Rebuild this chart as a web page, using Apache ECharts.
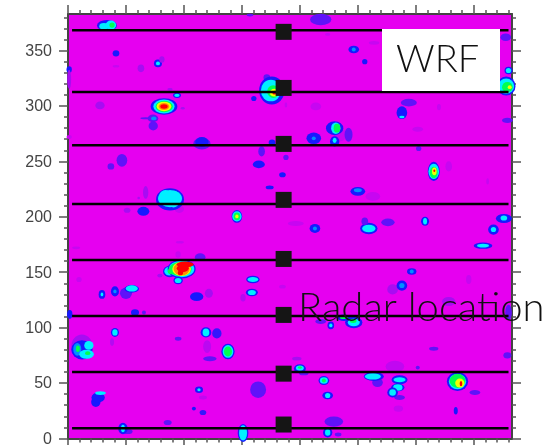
<!DOCTYPE html>
<html>
<head>
<meta charset="utf-8">
<style>
    html, body { margin: 0; padding: 0; background: #fff; }
    #main { width: 556px; height: 445px; }
    #main canvas { filter: blur(0.6px); }
</style>
<script src="https://cdn.jsdelivr.net/npm/echarts@6/dist/echarts.min.js"></script>
</head>
<body>
<div id="main"></div>
<script>
    var axisMax = 383;
    var tickValues = [0, 50, 100, 150, 200, 250, 300, 350];

    // scan lines and the radar positions on them
    var scanLineY = [368.3, 312.7, 264.6, 211.6, 161, 110.5, 60, 9.2];
    var scanLineX = [3.5, 380];
    var radarX = 186;
    var radarY = [366.9, 316.3, 265.8, 215.3, 162, 111.5, 58.5, 12.6];

    // echo contours: x, y, level, width, height (axis units)
    var upperEchoes = [
        [33.6,372.7,2,15,8.5],[31,372,4,7,5],[37,373,4,8,7],[38,373,5,4,4],
        [41.4,347.5,2,5,5],[77.6,338.4,2,6,6],[77.6,338.4,4,3,3],[81,342,1,4,5],
        [62.9,334,1,5,6],[41.4,335.8,0.5,5,2],[1,333,2,4,5],[1,324,1,3,15],
        [171.5,325.8,1.5,5,5],[175.8,314,2,19,22],[175,314,4,15,17],[177,313,5,9,10],
        [178,312,6,7,6],[178,312,8,3,3],[160.3,306.8,2,4,4],
        [82.8,299.6,2,20,13],[82.8,299.6,4,16,11],[83,299.6,5,13,9],[82.8,299.6,6,11,7.5],
        [82.8,299.6,7,8,5.5],[82.8,299.6,8,5.5,3.5],[94,309.6,2,6,4],[94,309.6,4,4,2.5],
        [88,315,1,4,2],[99,298,1,3,2],[27.6,300.5,1,7,6],[73.3,288.8,1.5,8,6],[74,288.8,3,4,3],
        [67,289,1.5,8,1.5],[73.5,282,1.5,7,7],[1,272,0.5,4,3],[115.5,266,1.5,13,9],[115.5,267.5,2,10,8],
        [176,267,2,5,5],[167,259,1.5,5,8],[164.6,247.3,2,9,6],[46.5,251,1.5,8,10],[37,245.5,1.5,5,5],
        [61,217,1,2,2],[67,222,1,4,10],[51,206,1,5,4],[65,205,2,9,7],
        [96,207,0.5,7,6],[88,215.7,2,21,17.5],[88,216.5,4,18,13.5],[84,219,4,9,9],[91,219,4,9,8],[91,213,4,8,8],
        [145.7,200.4,2,8,10],[145.7,200.4,4,7,8],[145.7,200.4,5,5,6],[145.7,200.4,6,2.5,3],
        [174,226.5,2,6,3],[157,382,1.5,5,2],
        [218,378,1.5,16,9],[224,364.6,0.5,4,2],[246.5,351,2,8,6],[246.5,351,3,3,3],[256,340,2,4,4],
        [264,357,0.5,8,3],[377.6,362,1.5,8,6],[380,332,2,6,6],[380,332,4,4,4],
        [378,318,2,14,15],[378,318,4,12,12],[379,317,5,8,8],[381,317,6,3,3],
        [213.8,299.6,0.5,8,6],[188,301,0.5,2,4],[294,303,1.5,12,6],[288,294,2,8,10],[288,290,4,4,2],
        [320,299,0.5,3,5],[379,287,1.5,8,4],[235,274,0.5,9,10],[230,280,2,13,11],[231,280,4,7,9],[232,280,5,5,7],
        [212,270.8,2,11,9],[212,270.8,3,3,3],[230,268,2,7,8],[230,269,4,3,4],[242,274,1.5,6,11],
        [302.5,261.7,1.5,4,4],[301.7,279,0.5,8,4],
        [315.5,241,2,9,15],[315.5,241,4,8,12],[315.5,240,5,6,9],[316,241,6,3.5,6],[316,241.5,8,1.5,2],
        [328.4,245.5,0.5,5,8],[188,253.6,1.5,4,4],[185,238,2,5,4],[250,223,2,11,7],[250,224,3,6,3],
        [263,218.4,0.5,11,7],[362,232,0.5,2,5],[376,198.5,2,12,7],[376,199,4,5,4],
        [308,196,2,6,7],[308,196,4,3,5]
    ];
    var middleEchoes = [
        [259.5,189.5,2,13,9],[259.5,189.5,4,10,6],[256,196,1.5,5,6],[276,195,1.5,10,6],
        [213,189.5,2,8,7],[213,189.5,3,3,3],[196.5,194,0.5,12,4],[367,188.5,2,8,8],[367,188.5,4,4,4],
        [358,174,2,14,5],[358,174,4,9,3],[296.5,150.7,2,7,5],[296.5,150.7,3,3,3],
        [280,134.5,1,8,8],[288,138,2,8,8],[288,138,3,4,4],[345.7,143.5,0.5,4,7],[185,137,0.5,5,3],
        [328.4,123.6,1,10,7],[246.5,104.7,2,13,9],[246.5,104.7,4,9,6],[246,106,5,5,3],
        [238,109,2,10,5],[238,109,5,6,2],[226.7,102,2,5,6],[226.7,102,4,2.5,3],[218,105.6,1.5,8,4],
        [380,113.7,1.5,5,12],[315.5,81,1.5,7,3],[379,75,1.5,6,5],[197.4,72,1,7,3],
        [203.4,58.7,1.5,7,3],[200,63,2,9,7],[200,63.5,4,6,4],[200,64,5,3,2],
        [220.7,52.3,2,8,7],[220.7,52.3,4,6,5],[220.7,52.3,5,3,3],[224,38.8,2,8,6],[224,38.8,4,4,4],
        [267,50.5,1.5,8,7],[263.8,56,2,15,7],[263,56,4,12,5],[286,37,1.5,8,4],[282,65,0.6,14,9],
        [286,53,2,12,7],[286,53,4,9,4],[284.5,46,2,10,6],[284.5,46,4,7,5],[280,41.5,2,8,8],[280,41.5,4,5,5],
        [301.7,64,1.5,3,3],[336,51.4,2,16,15],[336,51.4,4,13,12],[336,52,5,12,11],[338,50,6,7,7],[339,49.5,8,2,4],
        [351,41.5,1.5,8,4],[334.5,25,2,3,6],[285,27,0.5,7,5],[229.3,15.3,1.5,14,8],
        [224,5.4,2,7,8],[224,5.4,4,4,5],[233,3.6,1.5,5,3]
    ];
    var lowerEchoes = [
        [7,172,0.5,6,2],[96.5,177,0.5,6,2],[95,166,0.5,4,5],[114,163.6,1.5,8,6],[79.3,147,1,4,3],
        [87.7,150.7,2,10,9],[87.7,151,4,8,7],[98,153,2,21,15],[98,153,4,19,13],[97,153,5,17,11],[90,151,5,7,5],
        [98,153,6,14,11],[98,153,7,12,10],[101,157,8,13,4.5],[99,153.5,8,9,6],[97,149.5,8,4,4],
        [95,142.6,2,7,6],[95,142.6,4,5,4],[9.5,143.5,0.5,4,4],[29.3,130,2,5,7],[29.3,130,4,2,3],
        [40.5,132.7,2,6,8],[40.5,132.7,3,2.5,3],[50,131,1.5,9,9],[55,135,2,11,6],[55,135.4,4,9,5],
        [111,128,2,10,7],[121.5,131,1,6,7],[151,127,0.8,4,6],[159.5,143.5,2,10,6],[159.5,143.5,4,8,4],
        [158.6,131.7,2,9,6],[158.6,131.7,4,6,4],[57.8,113.7,2,6,5],[65.5,113.7,1.5,3,3],[1.5,112,2,4,7],
        [38,87,0.8,3,6],[40.5,95.7,2,6,7],[40.5,95.7,4,4,5],
        [12,83,1,16,19],[12,80,2,16,15],[8,80.5,3,6,10],[8.5,81,5,3,5],[16,76,4,11,7],[18,84,4,7,7],[17,77,5,4,3],
        [95,90,1.5,5,3],[119,95.7,2,8,8],[119,95.7,4,5,6],[128.4,94.8,1.8,7,8],
        [120,83,0.7,6,10],[138,78.5,2,10,12],[138,78.5,4,8,10],[138,78.5,5,6,8],[122.4,72,1.5,10,4],
        [116.4,37,0.6,6,3],[113,44,2,6,5],[113,44,4,2.5,2.5],[164,44,1.5,12,13],
        [24,33,2,7,8],[26,37,2,10,8],[28,41,4,8,3],[108.6,27,2,3,3],[116.4,23.5,1.8,5,4],
        [86,14.4,1.5,6,4],[51.7,6.3,1.5,7,4],[47.4,9,2,7,9],[47.4,9,4,3,6],[151,5,2,8,14],[151,5,4,6,12]
    ];

    var levelColors = ['#e600f0', '#a80cf2', '#1818ff', '#0090ff', '#00f0ff', '#00ff50', '#f0ff00', '#ff9000', '#ff0000'];
    var echoes = upperEchoes.concat(middleEchoes, lowerEchoes);

    var gridLeft = 68, gridRight = 44, gridTop = 14, gridBottom = 6.5;
    var pxPerX = (556 - gridLeft - gridRight) / axisMax;
    var pxPerY = (445 - gridTop - gridBottom) / axisMax;
    var shellGrow = 1.15;

    var chartDom = document.getElementById('main');
    var myChart = echarts.init(chartDom);

    function frameAxis(position, showLabel) {
        return {
            type: 'value',
            position: position,
            min: 0,
            max: axisMax,
            interval: 50,
            splitLine: { show: false },
            axisLine: { show: true, onZero: false, lineStyle: { color: '#444', width: 2 } },
            axisTick: {
                show: true,
                length: 9,
                customValues: tickValues,
                lineStyle: { color: '#555', width: 1.5 }
            },
            minorTick: { show: true, splitNumber: 5, length: 4, lineStyle: { color: '#555', width: 1.5 } },
            axisLabel: {
                show: showLabel,
                customValues: tickValues,
                margin: 16,
                formatter: '{a|{value}}',
                rich: {
                    a: {
                        color: '#444',
                        fontFamily: 'Liberation Sans',
                        fontSize: 16,
                        padding: [2, 0, 0, 0]
                    }
                }
            }
        };
    }

    var scanLines = scanLineY.map(function (y) {
        return {
            type: 'line',
            symbol: 'none',
            silent: true,
            z: 4,
            lineStyle: { color: '#000', width: 2.5 },
            data: [[scanLineX[0], y], [scanLineX[1], y]]
        };
    });

    var option = {
        animation: false,
        grid: {
            left: gridLeft,
            right: gridRight,
            top: gridTop,
            bottom: gridBottom,
            outerBoundsMode: 'none',
            show: true,
            backgroundColor: levelColors[0],
            borderWidth: 0
        },
        xAxis: [frameAxis('bottom', false), frameAxis('top', false)],
        yAxis: [frameAxis('left', true), frameAxis('right', false)],
        visualMap: {
            show: false,
            seriesIndex: 0,
            dimension: 2,
            min: 0,
            max: 8,
            inRange: { color: levelColors }
        },
        series: [
            {
                type: 'scatter',
                clip: true,
                z: 2,
                symbol: 'circle',
                symbolSize: function (d) {
                    return [d[3] * pxPerX * shellGrow, d[4] * pxPerY * shellGrow];
                },
                itemStyle: { opacity: 1 },
                data: echoes
            },
            {
                type: 'scatter',
                z: 5,
                symbol: 'rect',
                symbolSize: 16,
                itemStyle: { color: '#151515', opacity: 1 },
                data: radarY.map(function (y) { return [radarX, y]; })
            }
        ].concat(scanLines),
        graphic: [
            { type: 'rect', z: 20, shape: { x: 382, y: 29, width: 118, height: 62 }, style: { fill: '#fff' } },
            { type: 'text', z: 21, x: 396, y: 41, style: { text: 'WRF', fill: '#111', font: '300 38px Lato' } },
            { type: 'text', z: 21, x: 298, y: 288, style: { text: 'Radar location', fill: '#111', font: '300 40px Lato' } }
        ]
    };

    myChart.setOption(option);
</script>
</body>
</html>
